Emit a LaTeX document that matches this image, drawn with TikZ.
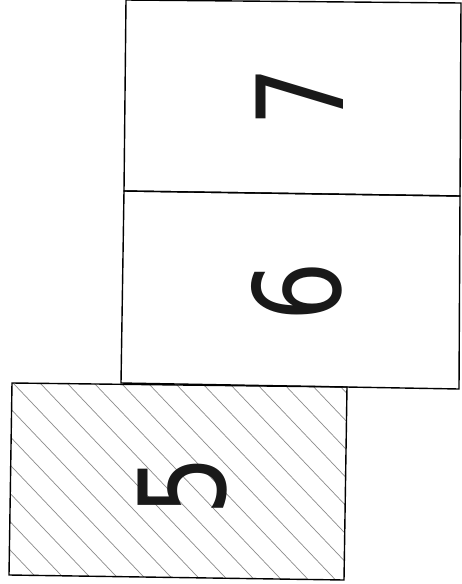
\documentclass[tikz,border=0pt]{standalone}
\usepackage{fontspec}
\setmainfont{DejaVu Sans}
\begin{document}
\begin{tikzpicture}[x=1pt,y=-1pt,
  frame/.style={draw=black,line width=1.4pt,line join=miter},
  hatchline/.style={draw=black!45,line width=0.7pt},
  digit/.style={rotate=90,inner sep=0pt,anchor=center,font=\fontsize{120}{120}\selectfont,text=black!90}]
\useasboundingbox (0,0) rectangle (461,584);
\fill[white] (0,0) rectangle (461,584);
% hatched bottom box
\begin{scope}
  \clip (12,383) -- (347,387) -- (344,580) -- (9,575) -- cycle;
  \foreach \k in {-14,...,14} {
    \draw[hatchline] ({13+27*\k-300},{383-315}) -- ({13+27*\k+300},{383+315});
  }
\end{scope}
\draw[frame] (12,383) -- (347,387) -- (344,580) -- (9,575) -- cycle;
% middle box
\draw[frame] (124,191) -- (460,196) -- (459,389) -- (121,383) -- cycle;
% top box
\draw[frame] (126,0) -- (461,3) -- (460,196) -- (124,191) -- cycle;
% digits
\node[digit] (n7) at (300,97) {\scalebox{0.78}[1]{7}};
\node[digit] (n6) at (297,292) {\scalebox{0.78}[1]{6}};
\node[digit] (n5) at (183,486) {\scalebox{0.78}[1]{5}};
\end{tikzpicture}
\end{document}
